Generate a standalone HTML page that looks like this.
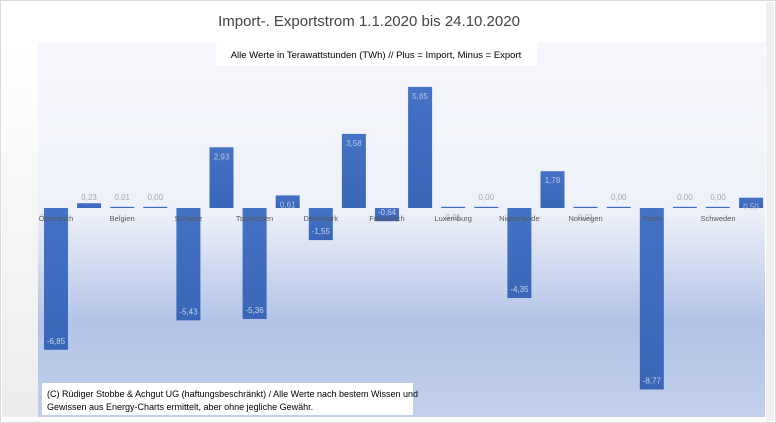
<!DOCTYPE html>
<html><head><meta charset="utf-8"><style>
body{margin:0;background:#fff}
svg{display:block;font-family:"Liberation Sans",sans-serif}
</style></head><body>
<svg width="776" height="423" viewBox="0 0 776 423" xmlns="http://www.w3.org/2000/svg">
<defs>
<linearGradient id="bg" x1="0" y1="0" x2="0" y2="1">
<stop offset="0" stop-color="#f6f7fc"/>
<stop offset="0.45" stop-color="#eef1f9"/>
<stop offset="0.75" stop-color="#b2c3e6"/>
<stop offset="1" stop-color="#c2d0ec"/>
</linearGradient>
<linearGradient id="side" x1="0" y1="0" x2="0" y2="1">
<stop offset="0" stop-color="#fff"/><stop offset="1" stop-color="#ececec"/>
</linearGradient>
<linearGradient id="bar" x1="0" y1="0" x2="0" y2="1">
<stop offset="0" stop-color="#4472c4"/><stop offset="1" stop-color="#3a66b8"/>
</linearGradient>
</defs>
<rect x="0.5" y="0.5" width="775" height="422" fill="#fff" stroke="#d9d9d9"/>
<rect x="2" y="42" width="36" height="375" fill="url(#side)"/>
<rect x="766" y="2" width="8" height="419" fill="#f0f0f0"/>
<rect x="38" y="42" width="727" height="375" fill="url(#bg)"/>
<text x="369" y="26" font-size="15" fill="#444" text-anchor="middle">Import-. Exportstrom 1.1.2020 bis 24.10.2020</text>
<rect x="216" y="42" width="321" height="24" fill="#fff"/>
<text x="376" y="58" font-size="9.5" fill="#000" text-anchor="middle">Alle Werte in Terawattstunden (TWh) // Plus = Import, Minus = Export</text>
<g id="bars"></g>
<rect x="42" y="383" width="371" height="32" fill="#fff"/>
<text x="47" y="397" font-size="9" fill="#000">(C) Rüdiger Stobbe &amp; Achgut UG (haftungsbeschränkt) / Alle Werte nach bestem Wissen und</text>
<text x="47" y="410" font-size="9" fill="#000">Gewissen aus Energy-Charts ermittelt, aber ohne jegliche Gewähr.</text>
</svg>
<script>
var v=[-6.85,0.23,0.01,0.00,-5.43,2.93,-5.36,0.61,-1.55,3.58,-0.64,5.85,0.01,0.00,-4.35,1.78,0.01,0.00,-8.77,0.00,0.00,0.50];
var names=["Österreich","Belgien","Schweiz","Tschechien","Dänemark","Frankreich","Luxemburg","Niederlande","Norwegen","Polen","Schweden"];
var g=document.getElementById("bars"),s="";
var base=208,k=20.7;
for(var i=0;i<22;i++){
 var x=44+33.1*i,val=v[i],h=Math.max(Math.abs(val)*k,1.2),y=val>=0?base-h:base;
 s+='<rect x="'+x.toFixed(1)+'" y="'+y.toFixed(1)+'" width="24" height="'+h.toFixed(1)+'" fill="url(#bar)"/>';
 var t=val.toFixed(2).replace(".",","),cx=(x+12).toFixed(1),ty,col;
 if(Math.abs(val)<0.4){ty=(i==12||i==16)?220:base-8;col="#a6a6a6";}
 else if(val>0){ty=y+12;col="#b8c4dd";}
 else {ty=y+h-6;col="#c8d2e6";}
 s+='<text x="'+cx+'" y="'+ty.toFixed(1)+'" font-size="8" fill="'+col+'" text-anchor="middle">'+t+'</text>';
}
for(var j=0;j<11;j++){
 s+='<text x="'+(56+66.2*j).toFixed(1)+'" y="221" font-size="7.5" fill="#595959" text-anchor="middle">'+names[j]+'</text>';
}
g.innerHTML=s;
</script>
</body></html>
